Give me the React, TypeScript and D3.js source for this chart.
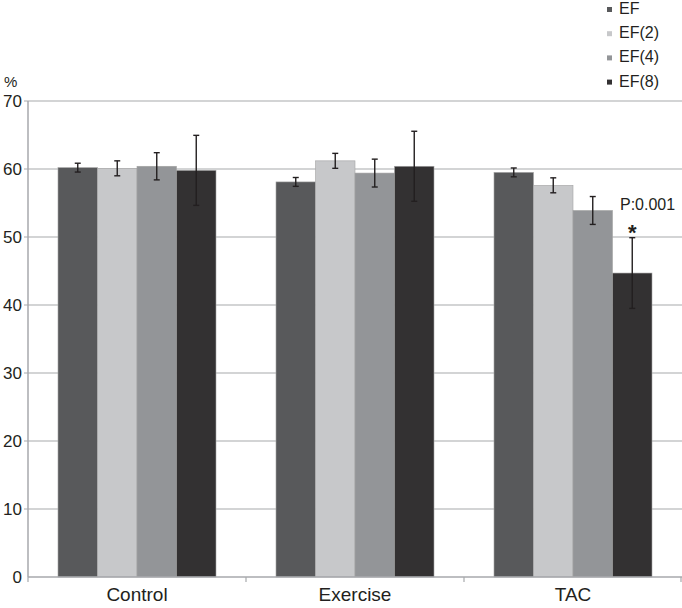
import * as d3 from 'd3';

// categories and series
const groups = ['Control', 'Exercise', 'TAC'];
const series = ['EF', 'EF(2)', 'EF(4)', 'EF(8)'];
const colors = ['#58595b', '#c7c8ca', '#939598', '#333132'];

// mean values per series, in group order
const efValues = [60.2, 58.1, 59.5];
const ef2Values = [60.1, 61.2, 57.6];
const ef4Values = [60.4, 59.4, 53.9];
const ef8Values = [59.8, 60.4, 44.7];

// error bar half-widths
const efErr = [0.65, 0.65, 0.65];
const ef2Err = [1.1, 1.1, 1.1];
const ef4Err = [2.0, 2.05, 2.05];
const ef8Err = [5.15, 5.15, 5.2];

const yTicks = [0, 10, 20, 30, 40, 50, 60, 70];

const values = [efValues, ef2Values, ef4Values, ef8Values];
const errors = [efErr, ef2Err, ef4Err, ef8Err];

const W = 682;
const H = 608;
const margin = { top: 101, right: 0, bottom: 31, left: 28 };
const FONT = '"Liberation Sans", Arial, sans-serif';
const TEXT = '#231f20';
const GRID = '#a7a9ac';

export default function App() {
  const x0 = d3.scaleBand().domain(groups).range([margin.left, W - margin.right]);
  const gap = 30;
  const x1 = d3.scaleBand().domain(series).range([gap, x0.bandwidth() - gap]);
  const y = d3.scaleLinear().domain([0, 70]).range([H - margin.bottom, margin.top]);
  const bw = x1.bandwidth();
  const boundaries = [margin.left, ...groups.map(g => (x0(g) || 0) + x0.bandwidth())];

  return (
    <svg width={W} height={H} style={{ position: 'absolute', left: 0, top: 0, fontFamily: FONT }}>
      <rect width={W} height={H} fill="#fff" />
      {/* gridlines */}
      {yTicks.filter(t => t > 0).map(t => (
        <line key={t} x1={margin.left - 4} x2={W} y1={y(t)} y2={y(t)} stroke={GRID} strokeWidth={1.2} />
      ))}
      {/* y tick labels */}
      {yTicks.map(t => (
        <text key={t} x={22} y={y(t) + 6} textAnchor="end" fontSize={17} fill={TEXT}>{t}</text>
      ))}
      <text x={4} y={87} fontSize={15} fill={TEXT}>%</text>
      {/* bars */}
      {groups.map((g, gi) => (
        <g key={g} transform={`translate(${x0(g)},0)`}>
          {series.map((s, si) => {
            const v = values[si][gi];
            return (
              <rect key={s} x={x1(s)} y={y(v)} width={bw} height={y(0) - y(v)}
                fill={colors[si]} stroke="#a3a3a3" strokeWidth={0.6} />
            );
          })}
          {series.map((s, si) => {
            const v = values[si][gi];
            const e = errors[si][gi];
            const cx = (x1(s) || 0) + bw / 2;
            return (
              <g key={s + 'err'} stroke={TEXT} strokeWidth={1.4}>
                <line x1={cx} x2={cx} y1={y(v + e)} y2={y(v - e)} />
                <line x1={cx - 3} x2={cx + 3} y1={y(v + e)} y2={y(v + e)} />
                <line x1={cx - 3} x2={cx + 3} y1={y(v - e)} y2={y(v - e)} />
              </g>
            );
          })}
        </g>
      ))}
      {/* axes */}
      <line x1={margin.left} x2={margin.left} y1={y(70)} y2={y(0)} stroke={GRID} strokeWidth={1.5} />
      <line x1={margin.left} x2={W} y1={y(0)} y2={y(0)} stroke={GRID} strokeWidth={1.5} />
      {boundaries.map((b, i) => (
        <line key={i} x1={Math.min(b, W - 1)} x2={Math.min(b, W - 1)} y1={y(0)} y2={y(0) + 5} stroke={GRID} strokeWidth={1.2} />
      ))}
      {groups.map(g => (
        <text key={g} x={(x0(g) || 0) + x0.bandwidth() / 2} y={601} textAnchor="middle" fontSize={19} fill={TEXT}>{g}</text>
      ))}
      {/* significance annotation */}
      <text x={620} y={210} fontSize={16} fill={TEXT}>P:0.001</text>
      <text x={(x0('TAC') || 0) + (x1('EF(8)') || 0) + bw / 2} y={240} textAnchor="middle" fontSize={22} fontWeight="bold" fill={TEXT}>*</text>
      {/* legend */}
      {series.map((s, i) => (
        <g key={s} transform={`translate(607,${14 + i * 24.2})`}>
          <rect x={0} y={-7} width={5} height={5} fill={colors[i]} />
          <text x={12} y={0} fontSize={16} fill={TEXT}>{s}</text>
        </g>
      ))}
    </svg>
  );
}
